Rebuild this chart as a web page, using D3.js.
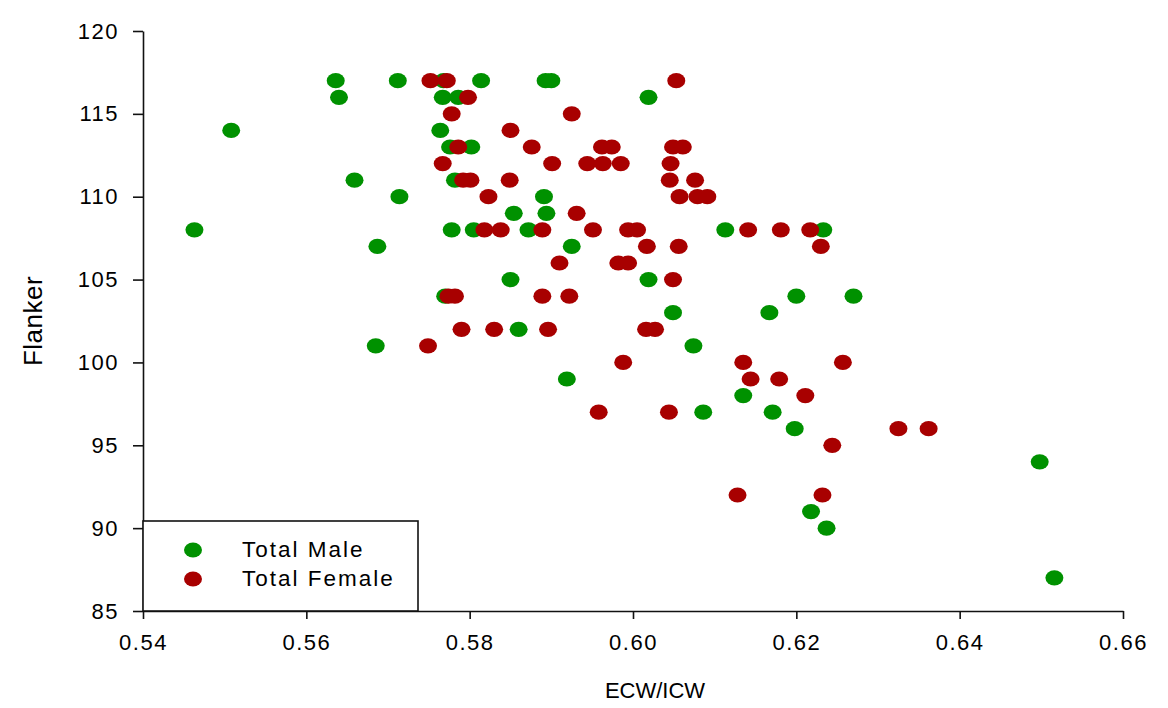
<!DOCTYPE html>
<html>
<head>
<meta charset="utf-8">
<script src="https://cdn.jsdelivr.net/npm/d3@7"></script>
<style>
  body { margin: 0; background: #fff; }
  text { font-family: "Liberation Sans", Arial, sans-serif; fill: #000; }
</style>
</head>
<body>
<div id="chart"></div>
<script>
// ECW/ICW vs Flanker, male and female groups
const maleX = [0.5636, 0.5640, 0.5712, 0.5768, 0.5814, 0.5893, 0.5900, 0.5767, 0.5786, 0.6019,
  0.5508, 0.5764, 0.5776, 0.5802, 0.5659, 0.5782, 0.5714, 0.5891, 0.5854, 0.5894,
  0.5463, 0.5778, 0.5805, 0.5872, 0.6113, 0.6233, 0.5687, 0.5925, 0.5850, 0.6019,
  0.5770, 0.6200, 0.6270, 0.6049, 0.6167, 0.5860, 0.5685, 0.6074, 0.5919, 0.6135,
  0.6086, 0.6171, 0.6198, 0.6498, 0.6218, 0.6237, 0.6516];
const maleY = [117, 116, 117, 117, 117, 117, 117, 116, 116, 116,
  114, 114, 113, 113, 111, 111, 110, 110, 109, 109,
  108, 108, 108, 108, 108, 108, 107, 107, 105, 105,
  104, 104, 104, 103, 103, 102, 101, 101, 99, 98,
  97, 97, 96, 94, 91, 90, 87];

const femaleX = [0.5752, 0.5772, 0.6053, 0.5798, 0.5778, 0.5925, 0.5850, 0.5786, 0.5876, 0.5962,
  0.5974, 0.6049, 0.6061, 0.5767, 0.5901, 0.5944, 0.5963, 0.5985, 0.6046, 0.5792,
  0.5801, 0.5849, 0.6045, 0.6076, 0.5823, 0.6057, 0.6079, 0.6091, 0.5931, 0.5818,
  0.5838, 0.5889, 0.5951, 0.5994, 0.6005, 0.6141, 0.6181, 0.6217, 0.6017, 0.6056,
  0.6230, 0.5910, 0.5982, 0.5994, 0.6049, 0.5774, 0.5782, 0.5889, 0.5922, 0.5790,
  0.5830, 0.5896, 0.6016, 0.6027, 0.5749, 0.5988, 0.6135, 0.6257, 0.6144, 0.6179,
  0.6211, 0.5958, 0.6044, 0.6325, 0.6362, 0.6244, 0.6128, 0.6232];
const femaleY = [117, 117, 117, 116, 115, 115, 114, 113, 113, 113,
  113, 113, 113, 112, 112, 112, 112, 112, 112, 111,
  111, 111, 111, 111, 110, 110, 110, 110, 109, 108,
  108, 108, 108, 108, 108, 108, 108, 108, 107, 107,
  107, 106, 106, 106, 105, 104, 104, 104, 104, 102,
  102, 102, 102, 102, 101, 100, 100, 100, 99, 99,
  98, 97, 97, 96, 96, 95, 92, 92];

const xTicks = [0.54, 0.56, 0.58, 0.60, 0.62, 0.64, 0.66];
const yTicks = [85, 90, 95, 100, 105, 110, 115, 120];
const seriesNames = ["Total Male", "Total Female"];
const seriesColors = ["#009100", "#a80000"];

const width = 1168, height = 708;
const margin = { top: 31, right: 45, bottom: 97, left: 143 };

const svg = d3.select("#chart").append("svg")
  .attr("width", width)
  .attr("height", height);

const x = d3.scaleLinear().domain([0.54, 0.66]).range([margin.left, width - margin.right]);
const y = d3.scaleLinear().domain([85, 120]).range([height - margin.bottom, margin.top]);

//axes
const xAxis = svg.append("g")
  .attr("transform", `translate(0,${height - margin.bottom})`)
  .call(d3.axisBottom(x).tickValues(xTicks).tickFormat(d3.format(".2f"))
    .tickSize(8).tickSizeOuter(0).tickPadding(15));
const yAxis = svg.append("g")
  .attr("transform", `translate(${margin.left},0)`)
  .call(d3.axisLeft(y).tickValues(yTicks).tickSize(10).tickSizeOuter(0).tickPadding(14));

[xAxis, yAxis].forEach(function (g) {
  g.select(".domain").attr("stroke", "#111").attr("stroke-width", 1.6);
  g.selectAll(".tick line").attr("stroke", "#111").attr("stroke-width", 1.6);
  g.selectAll(".tick text")
    .style("font-family", '"Liberation Sans", Arial, sans-serif')
    .style("font-size", "22px")
    .style("letter-spacing", "1.5px")
    .attr("fill", "#000");
});

//axis titles
svg.append("text")
  .attr("x", 655)
  .attr("y", 698)
  .attr("text-anchor", "middle")
  .style("font-size", "22px")
  .text("ECW/ICW");

svg.append("text")
  .attr("transform", `translate(42,${(margin.top + height - margin.bottom) / 2}) rotate(-90)`)
  .attr("text-anchor", "middle")
  .style("font-size", "26px")
  .style("letter-spacing", "0.5px")
  .text("Flanker");

//points, males first, females drawn on top
const groups = [
  { name: seriesNames[0], xs: maleX, ys: maleY, color: seriesColors[0] },
  { name: seriesNames[1], xs: femaleX, ys: femaleY, color: seriesColors[1] }
];

groups.forEach(function (s) {
  svg.append("g")
    .selectAll("ellipse")
    .data(d3.zip(s.xs, s.ys))
    .join("ellipse")
    .attr("cx", function (d) { return x(d[0]) })
    .attr("cy", function (d) { return y(d[1]) })
    .attr("rx", 9)
    .attr("ry", 7.6)
    .attr("fill", s.color);
});

//legend box in lower left corner
const legend = svg.append("g");
legend.append("rect")
  .attr("x", margin.left)
  .attr("y", 521)
  .attr("width", 275)
  .attr("height", height - margin.bottom - 521)
  .attr("fill", "#fff")
  .attr("stroke", "#111")
  .attr("stroke-width", 1.6);

groups.forEach(function (s, i) {
  legend.append("ellipse")
    .attr("cx", 193)
    .attr("cy", 550 + i * 29)
    .attr("rx", 9)
    .attr("ry", 7.6)
    .attr("fill", s.color);
  legend.append("text")
    .attr("x", 242)
    .attr("y", 557 + i * 29)
    .style("font-size", "22.5px")
    .style("letter-spacing", "2px")
    .text(s.name);
});
</script>
</body>
</html>
